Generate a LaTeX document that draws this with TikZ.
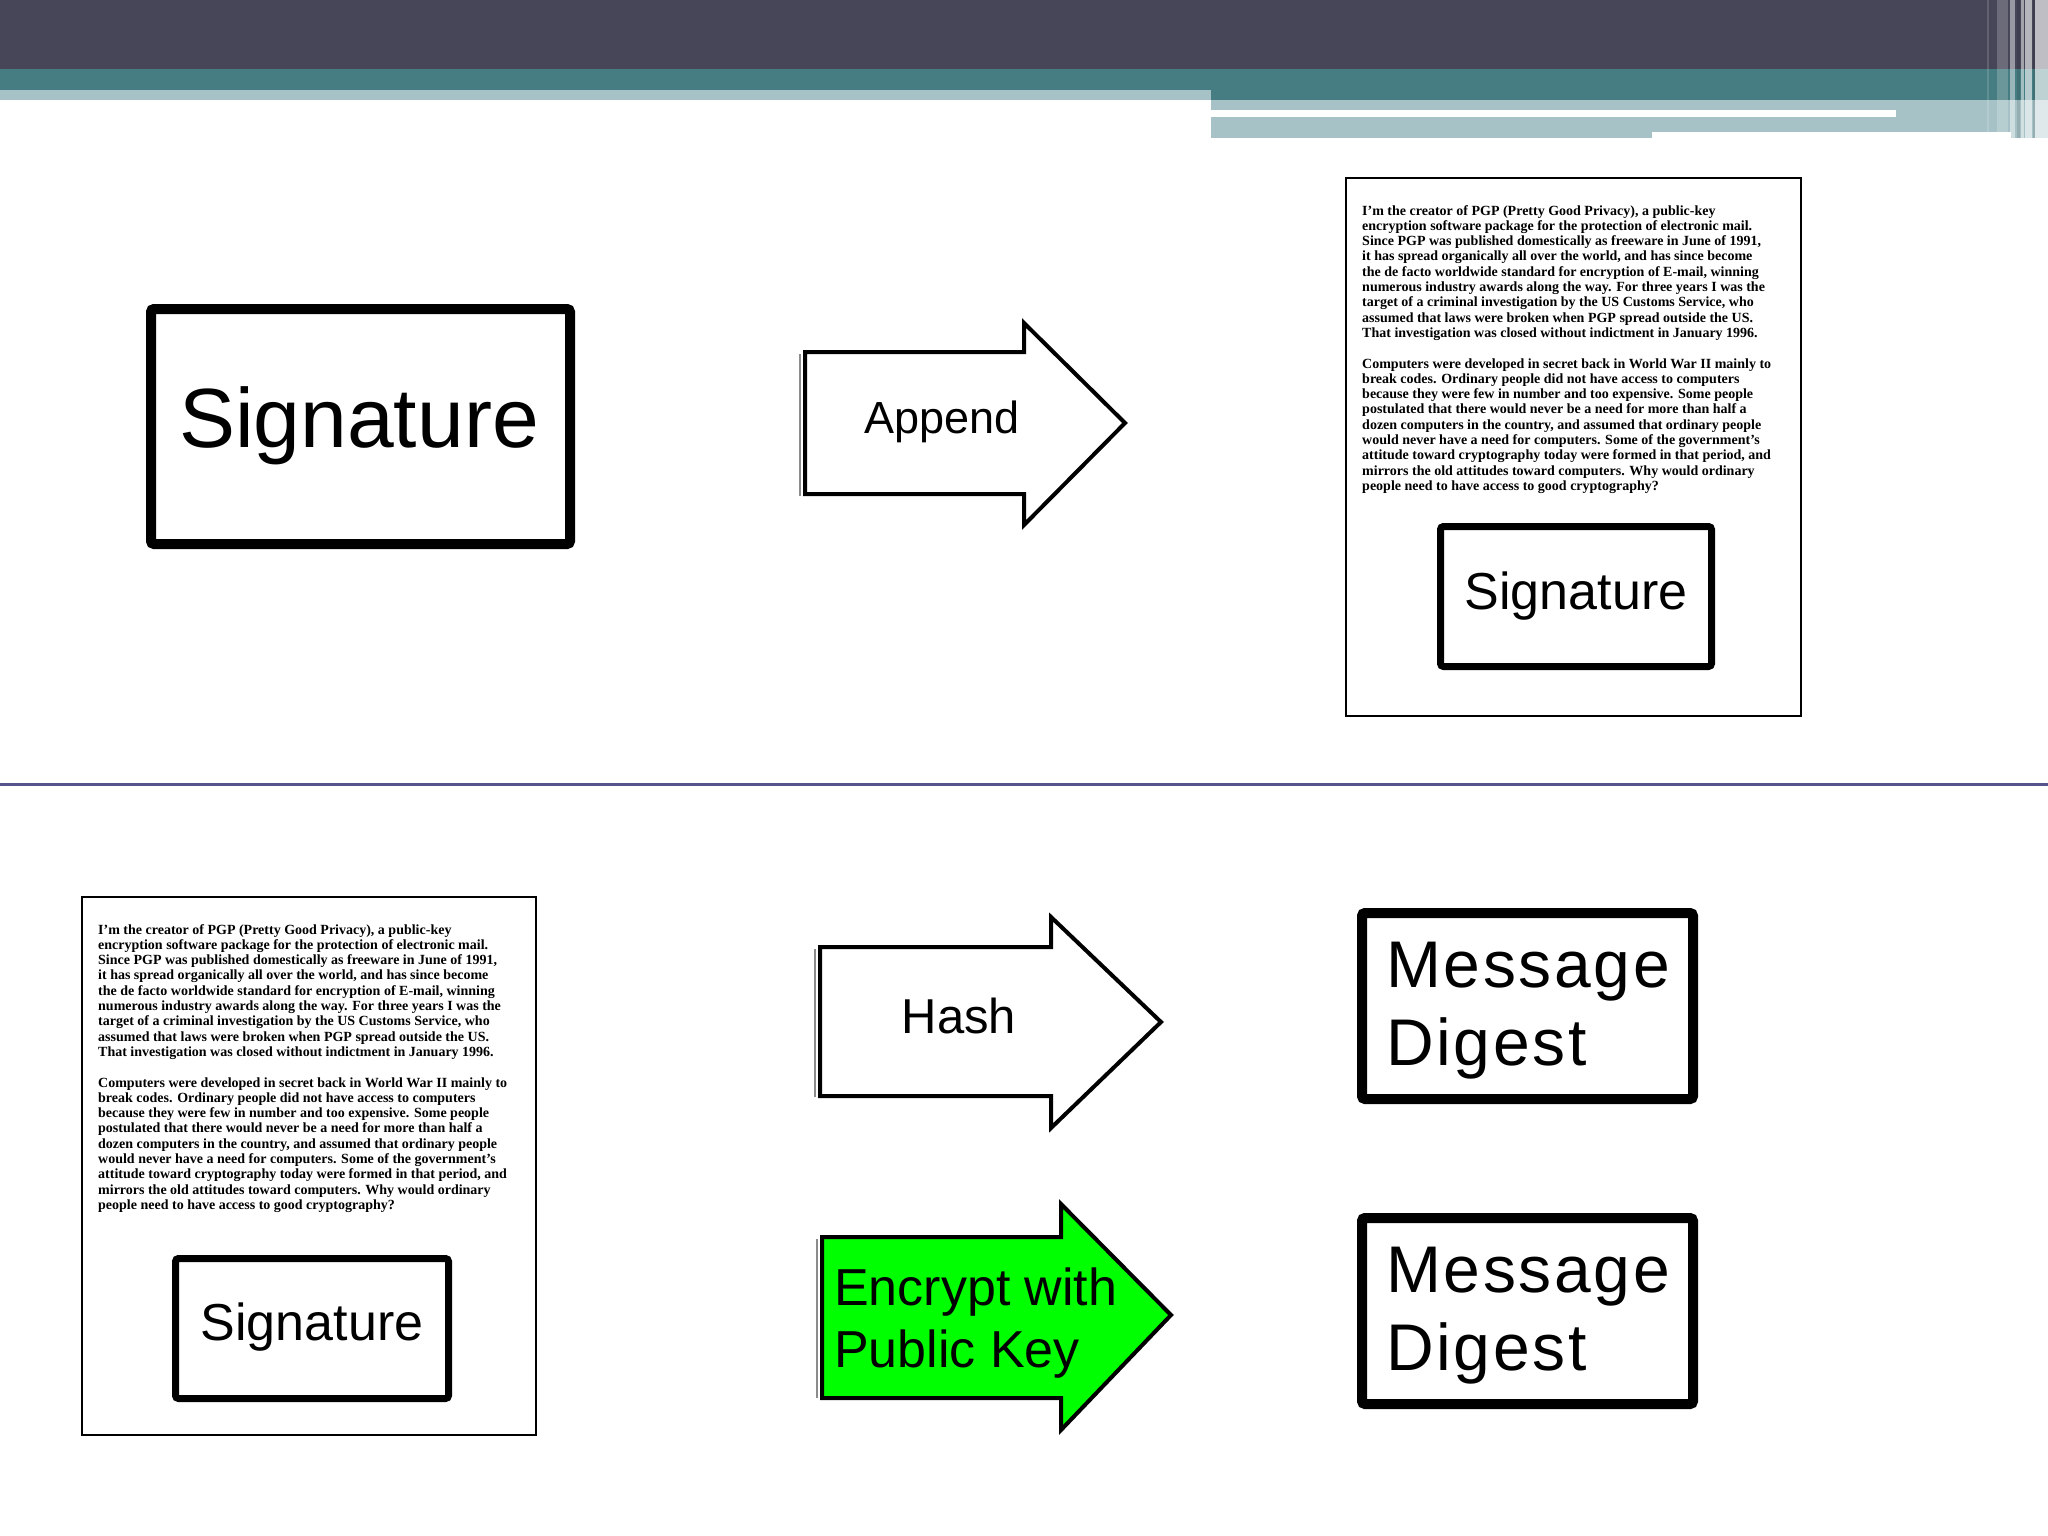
\documentclass[tikz,border=0pt]{standalone}
\usepackage{fontspec}
\setmainfont{Liberation Serif}
\newfontfamily\arialfont{Liberation Sans}
\newfontfamily\arialwide[LetterSpace=4]{Liberation Sans}
\definecolor{darkband}{HTML}{464658}
\definecolor{tealband}{HTML}{467D82}
\definecolor{lightband}{HTML}{A6C2C6}
\definecolor{sepline}{HTML}{56548C}
\definecolor{arrowgreen}{HTML}{00FF00}
\newcommand{\pgptext}{%
I'm the creator of PGP (Pretty Good Privacy), a public-key\\
encryption software package for the protection of electronic mail.\\
Since PGP was published domestically as freeware in June of 1991,\\
it has spread organically all over the world, and has since become\\
the de facto worldwide standard for encryption of E-mail, winning\\
numerous industry awards along the way. For three years I was the\\
target of a criminal investigation by the US Customs Service, who\\
assumed that laws were broken when PGP spread outside the US.\\
That investigation was closed without indictment in January 1996.\\[15.3pt]
Computers were developed in secret back in World War II mainly to\\
break codes. Ordinary people did not have access to computers\\
because they were few in number and too expensive. Some people\\
postulated that there would never be a need for more than half a\\
dozen computers in the country, and assumed that ordinary people\\
would never have a need for computers. Some of the government's\\
attitude toward cryptography today were formed in that period, and\\
mirrors the old attitudes toward computers. Why would ordinary\\
people need to have access to good cryptography?}
\begin{document}
\begin{tikzpicture}[x=1pt,y=-1pt,
  docbox/.style={draw=black, line width=2.5pt},
  sigbox/.style={draw=black, line width=10pt, rounded corners=3pt},
  smallsig/.style={draw=black, line width=7pt, rounded corners=3pt},
  digestbox/.style={draw=black, line width=10pt, rounded corners=3pt},
  arrowshape/.style={draw=black, line width=4pt, line join=miter},
  shadowline/.style={draw=black!45, line width=1.5pt},
  doctext/.style={anchor=north west, align=left, inner sep=0pt,
    font=\bfseries\fontsize{14}{15.3}\selectfont},
  lbl/.style={inner sep=0pt},
]
\useasboundingbox (0,0) rectangle (2048,1536);
\fill[white] (0,0) rectangle (2048,1536);

% ---------- header bands ----------
\fill[darkband] (0,0) rectangle (2048,69);
\fill[tealband] (0,69) rectangle (1211,90);
\fill[lightband] (0,90) rectangle (1211,100);
\fill[tealband] (1211,69) rectangle (2048,100);
\fill[lightband] (1211,100) rectangle (2048,138);
\fill[white] (1211,110) rectangle (1896,117);
\fill[white] (1652,132) rectangle (2011,138);
\fill[white, opacity=0.15] (1987,0) rectangle (1989,138);
\fill[white, opacity=0.2] (1997,0) rectangle (2008,138);
\fill[white, opacity=0.45] (2010,0) rectangle (2015,138);
\fill[black, opacity=0.1] (2017,0) rectangle (2020,138);
\fill[white, opacity=0.5] (2021,0) rectangle (2024,138);
\fill[white, opacity=0.6] (2025,0) rectangle (2032,138);
\fill[black, opacity=0.1] (2033,0) rectangle (2035,138);
\fill[white, opacity=0.65] (2035,0) rectangle (2048,138);

% ---------- separator ----------
\draw[sepline, line width=3pt] (0,784) -- (2048,784);

% ---------- top row ----------
\draw[sigbox] (151,309) rectangle (570,544);
\node[lbl, anchor=base, font=\arialfont\fontsize{84}{84}\selectfont] (sigbig) at (359,447) {Signature};

\draw[shadowline] (800,354) -- (800,496);
\draw[arrowshape, fill=white] (805,352) -- (1024,352) -- (1024,323) -- (1125,423)
  -- (1024,525) -- (1024,494) -- (805,494) -- cycle;
\node[lbl, anchor=base, font=\arialfont\fontsize{45}{45}\selectfont] (append) at (942,433) {Append};

\draw[docbox] (1346,178) rectangle (1801,716);
\node[doctext] (doc1text) at (1362,205) {\pgptext};
\draw[smallsig] (1440.5,526.5) rectangle (1711.5,666.5);
\node[lbl, anchor=base, font=\arialfont\fontsize{52}{52}\selectfont] (sig1) at (1576,609) {Signature};

% ---------- bottom row ----------
\draw[docbox] (82,897) rectangle (536,1435);
\node[doctext] (doc2text) at (98,924) {\pgptext};
\draw[smallsig] (175.5,1258.5) rectangle (448.5,1398.5);
\node[lbl, anchor=base, font=\arialfont\fontsize{52}{52}\selectfont] (sig2) at (312,1340) {Signature};

\draw[shadowline] (815,949) -- (815,1097);
\draw[arrowshape, fill=white] (820,947) -- (1051,947) -- (1051,917) -- (1161,1022)
  -- (1051,1128) -- (1051,1096) -- (820,1096) -- cycle;
\node[lbl, anchor=base, font=\arialfont\fontsize{49}{49}\selectfont] (hash) at (959,1033) {Hash};

\draw[shadowline] (817,1239) -- (817,1398);
\draw[arrowshape, fill=arrowgreen] (822,1237) -- (1061,1237) -- (1061,1204) -- (1171,1315)
  -- (1061,1430) -- (1061,1398) -- (822,1398) -- cycle;
\node[lbl, anchor=north west, align=left, font=\arialfont\fontsize{52}{62}\selectfont] (encrypt) at (834,1268) {Encrypt with\\Public Key};

\draw[digestbox] (1362,913) rectangle (1693,1099);
\node[lbl, anchor=north west, align=left, font=\arialwide\fontsize{66}{78}\selectfont] (digest1) at (1386,942) {Message\\Digest};

\draw[digestbox] (1362,1218) rectangle (1693,1404);
\node[lbl, anchor=north west, align=left, font=\arialwide\fontsize{66}{78}\selectfont] (digest2) at (1386,1247) {Message\\Digest};
\end{tikzpicture}
\end{document}
